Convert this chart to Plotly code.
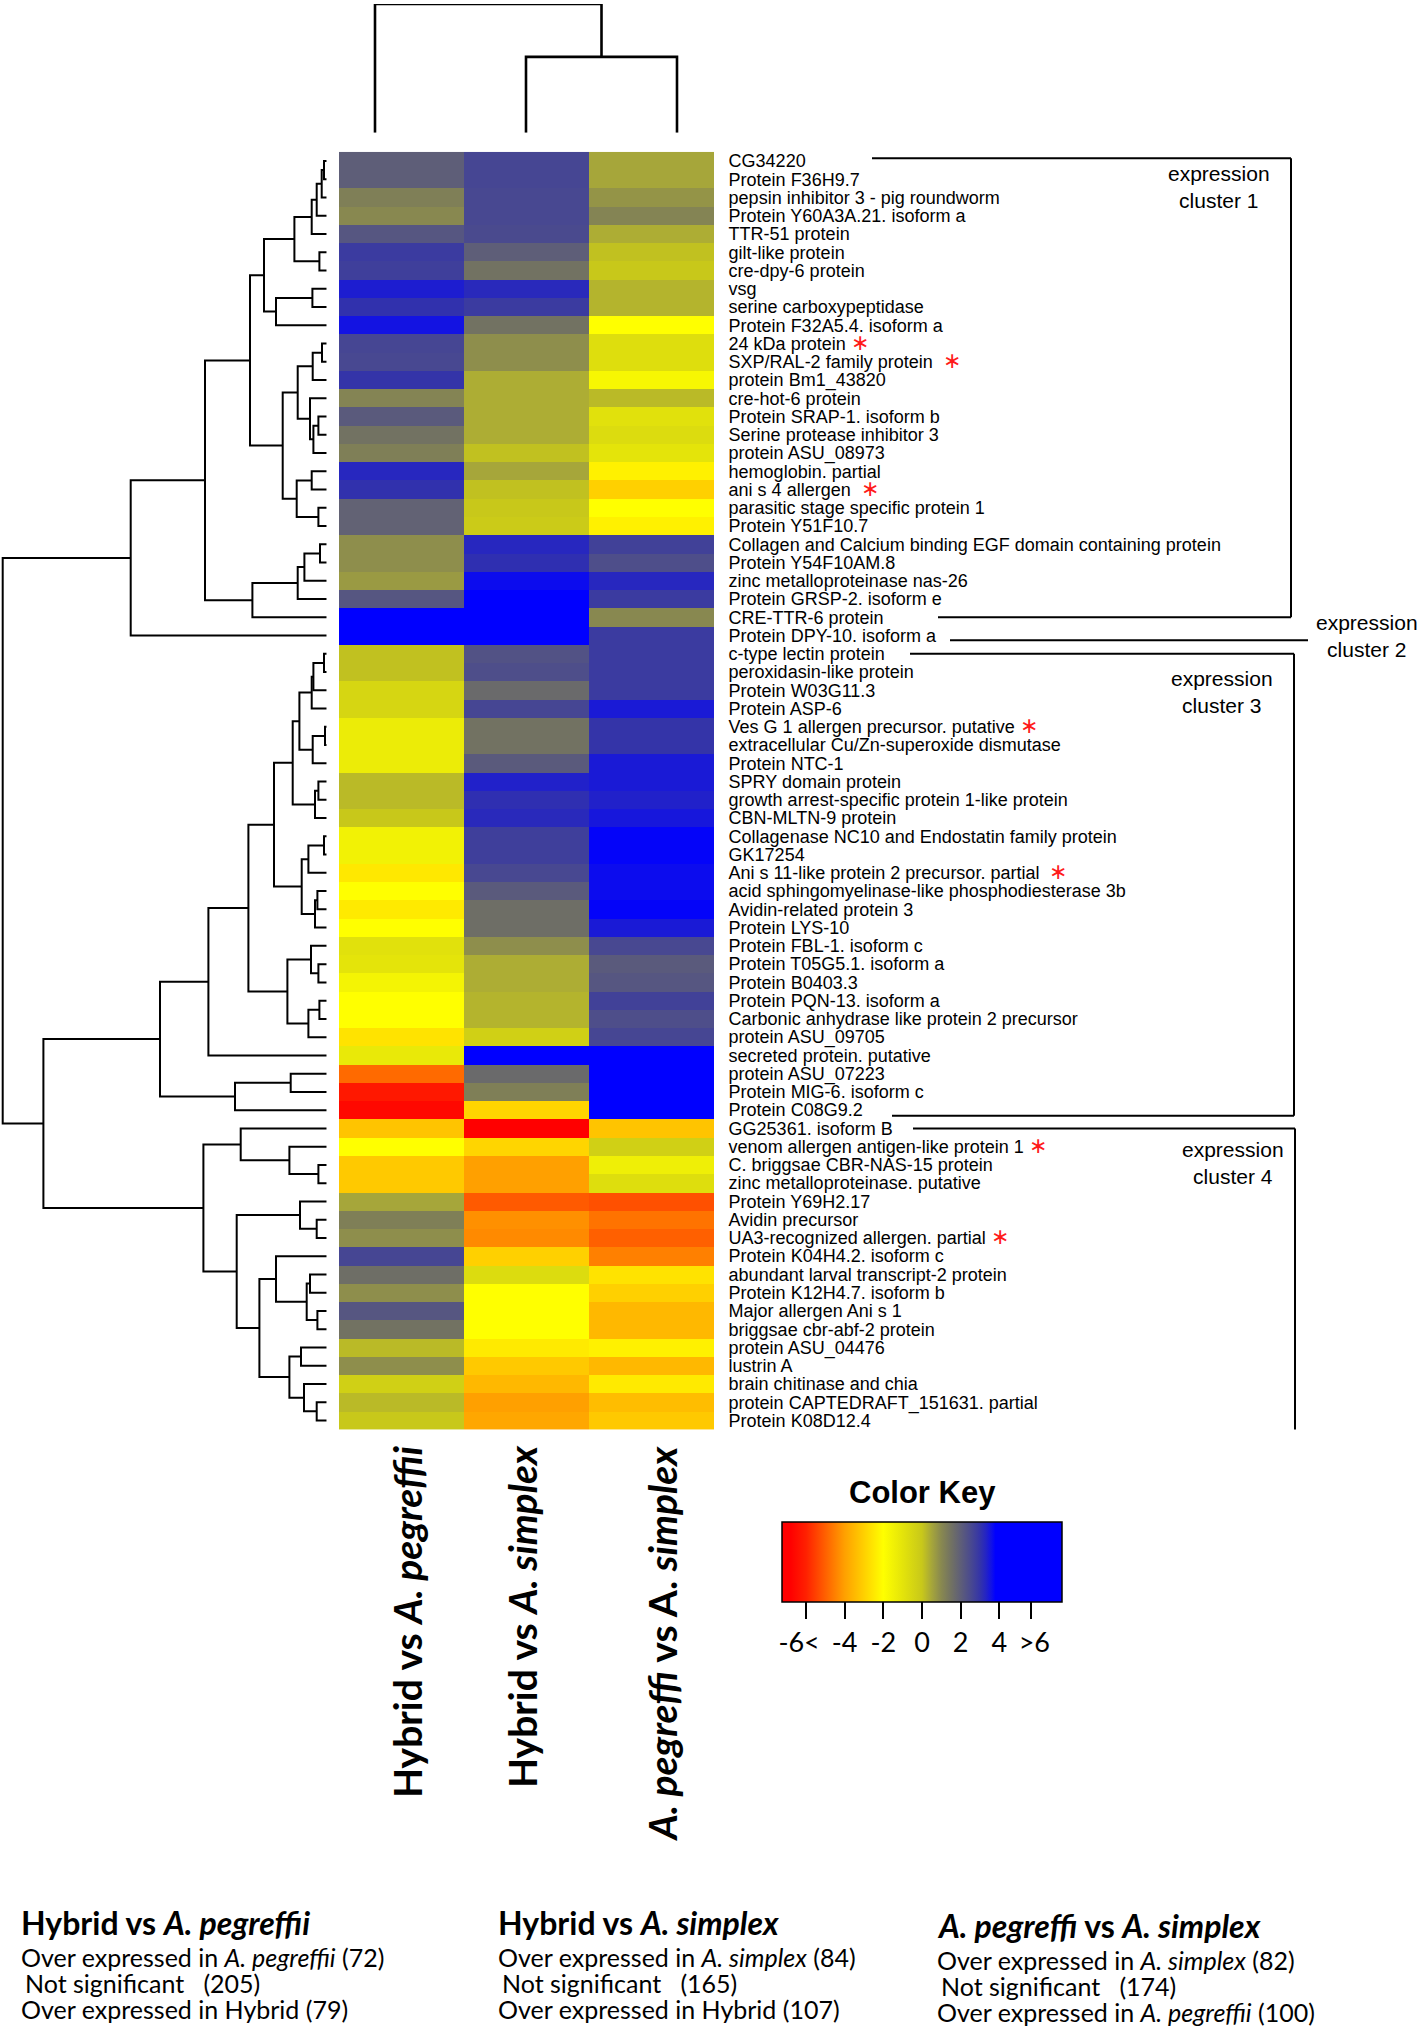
import plotly.graph_objects as go

W, H = 1418, 2026

# ---------------- data ----------------
genes = [
    "CG34220", "Protein F36H9.7", "pepsin inhibitor 3 - pig roundworm", "Protein Y60A3A.21. isoform a", "TTR-51 protein",
    "gilt-like protein", "cre-dpy-6 protein", "vsg", "serine carboxypeptidase", "Protein F32A5.4. isoform a",
    "24 kDa protein", "SXP/RAL-2 family protein", "protein Bm1_43820", "cre-hot-6 protein", "Protein SRAP-1. isoform b",
    "Serine protease inhibitor 3", "protein ASU_08973", "hemoglobin. partial", "ani s 4 allergen", "parasitic stage specific protein 1",
    "Protein Y51F10.7", "Collagen and Calcium binding EGF domain containing protein", "Protein Y54F10AM.8", "zinc metalloproteinase nas-26", "Protein GRSP-2. isoform e",
    "CRE-TTR-6 protein", "Protein DPY-10. isoform a", "c-type lectin protein", "peroxidasin-like protein", "Protein W03G11.3",
    "Protein ASP-6", "Ves G 1 allergen precursor. putative", "extracellular Cu/Zn-superoxide dismutase", "Protein NTC-1", "SPRY domain protein",
    "growth arrest-specific protein 1-like protein", "CBN-MLTN-9 protein", "Collagenase NC10 and Endostatin family protein", "GK17254", "Ani s 11-like protein 2 precursor. partial",
    "acid sphingomyelinase-like phosphodiesterase 3b", "Avidin-related protein 3", "Protein LYS-10", "Protein FBL-1. isoform c", "Protein T05G5.1. isoform a",
    "Protein B0403.3", "Protein PQN-13. isoform a", "Carbonic anhydrase like protein 2 precursor", "protein ASU_09705", "secreted protein. putative",
    "protein ASU_07223", "Protein MIG-6. isoform c", "Protein C08G9.2", "GG25361. isoform B", "venom allergen antigen-like protein 1",
    "C. briggsae CBR-NAS-15 protein", "zinc metalloproteinase. putative", "Protein Y69H2.17", "Avidin precursor", "UA3-recognized allergen. partial",
    "Protein K04H4.2. isoform c", "abundant larval transcript-2 protein", "Protein K12H4.7. isoform b", "Major allergen Ani s 1", "briggsae cbr-abf-2 protein",
    "protein ASU_04476", "lustrin A", "brain chitinase and chia", "protein CAPTEDRAFT_151631. partial", "Protein K08D12.4",
]

# allergens marked with a red asterisk (value = number of spaces before it)
allergen_marks = {
    "24 kDa protein": 1,
    "SXP/RAL-2 family protein": 2,
    "ani s 4 allergen": 2,
    "Ves G 1 allergen precursor. putative": 1,
    "Ani s 11-like protein 2 precursor. partial": 2,
    "venom allergen antigen-like protein 1": 1,
    "UA3-recognized allergen. partial": 1,
}

comparisons = ["Hybrid vs <i>A. pegreffii</i>", "Hybrid vs <i>A. simplex</i>",
               "<i>A. pegreffi</i> vs A. <i>simplex</i>"]

hyb_vs_peg = [2.0, 2.0, 1.2, 1.0, 2.2, 2.85, 2.75, 3.4, 3.05, 3.55,
              2.6, 2.55, 3.0, 1.1, 2.1, 1.5, 1.2, 3.25, 3.05, 1.9,
              1.9, 0.9, 0.9, 0.7, 2.2, 6.0, 6.0, 0.1, 0.1, -0.5,
              -0.5, -1.3, -1.3, -1.3, 0.2, 0.2, 0.0, -1.5, -1.5, -2.5,
              -2.0, -2.45, -2.0, -0.9, -1.0, -1.6, -2.0, -2.0, -2.6, -1.2,
              -4.85, -6.2, -6.6, -3.25, -2.0, -3.15, -3.15, 0.5, 1.2, 0.9,
              2.6, 1.6, 0.9, 2.2, 1.5, 0.2, 0.9, -0.3, 0.2, 0.0]
hyb_vs_sim = [2.6, 2.6, 2.55, 2.55, 2.5, 2.0, 1.5, 3.2, 2.85, 1.5,
              0.9, 0.9, 0.4, 0.4, 0.4, 0.4, 0.1, 0.5, 0.1, 0.0,
              -0.1, 3.25, 3.1, 3.65, 6.0, 6.0, 6.0, 2.3, 2.4, 1.7,
              2.6, 1.5, 1.5, 2.1, 3.35, 3.1, 3.2, 2.75, 2.75, 2.55,
              2.1, 1.6, 1.6, 0.9, 0.4, 0.4, 0.3, 0.3, -0.3, 6.0,
              1.7, 1.2, -2.9, -6.9, -2.9, -4.0, -4.0, -5.1, -4.25, -4.35,
              -3.0, -0.7, -2.0, -2.0, -2.0, -2.45, -3.15, -3.5, -4.0, -3.85]
peg_vs_sim = [0.5, 0.5, 0.8, 1.1, 0.4, 0.1, 0.0, 0.3, 0.3, -2.0,
              -0.8, -0.8, -1.7, 0.2, -0.9, -0.7, -1.0, -2.3, -3.0, -2.0,
              -2.3, 2.7, 2.4, 3.25, 2.85, 1.0, 2.85, 2.85, 2.85, 2.85,
              3.45, 3.0, 3.0, 3.45, 3.45, 3.35, 3.5, 3.75, 3.75, 3.65,
              3.65, 3.75, 3.45, 2.55, 2.1, 2.2, 2.7, 2.4, 2.6, 6.0,
              6.0, 6.0, 6.0, -3.25, -0.3, -1.4, -0.8, -5.25, -4.7, -5.0,
              -4.5, -2.6, -3.0, -3.5, -3.5, -2.3, -3.5, -2.45, -3.4, -3.15]

# row dendrogram merges: (node, child_a, child_b, height)
row_merges = [
    ("m1", 0, 1, 2.7), ("m2", "m1", 2, 5.0), ("m3", "m2", 3, 10.0), ("m4", "m3", 4, 15.0),
    ("m5", 5, 6, 7.3), ("m6", "m4", "m5", 32.3), ("m7", 7, 8, 14.3), ("m8", "m7", 9, 50.7),
    ("m9", "m6", "m8", 62.7), ("m10", 10, 11, 4.7), ("m11", "m10", 12, 14.0),
    ("m12", 14, 15, 8.3), ("m13", "m12", 16, 13.3), ("m14", 13, "m13", 16.7),
    ("m15", "m11", "m14", 29.0), ("m16", 17, 18, 15.0), ("m17", 19, 20, 8.3),
    ("m18", "m16", "m17", 30.0), ("m19", "m15", "m18", 44.0), ("m20", "m9", "m19", 76.7),
    ("m21", 21, 22, 6.7), ("m22", "m21", 23, 22.3), ("m23", "m22", 24, 29.0),
    ("m24", "m23", 25, 74.3), ("m25", "m20", "m24", 121.7), ("m26", "m25", 26, 196.0),
    ("n1", 27, 28, 2.7), ("n2", "n1", 29, 13.3), ("n3", "n2", 30, 15.0),
    ("n4", 31, 32, 1.7), ("n5", "n4", 33, 14.0), ("n6", "n3", "n5", 27.3),
    ("n7", 34, 35, 8.3), ("n8", "n7", 36, 11.7), ("n9", "n6", "n8", 34.0),
    ("n10", 37, 38, 2.7), ("n11", "n10", 39, 18.3), ("n12", 40, 41, 9.3),
    ("n13", "n12", 42, 11.7), ("n14", "n11", "n13", 25.0), ("n15", "n9", "n14", 52.7),
    ("n16", 44, 45, 8.3), ("n17", 43, "n16", 15.7), ("n18", 46, 47, 7.3),
    ("n19", "n18", 48, 18.3), ("n20", "n17", "n19", 39.3), ("n21", "n15", "n20", 78.3),
    ("n22", "n21", 49, 118.3), ("n23", 50, 51, 36.0), ("n24", "n23", 52, 91.7),
    ("n25", "n22", "n24", 166.7), ("n26", 55, 56, 8.3), ("n27", 54, "n26", 37.3),
    ("n28", 53, "n27", 86.0), ("n29", 58, 59, 10.0), ("n30", 57, "n29", 26.7),
    ("n31", 61, 62, 16.7), ("n32", 63, 64, 9.3), ("n33", "n31", "n32", 20.0),
    ("n34", 60, "n33", 50.7), ("n35", 65, 66, 25.7), ("n36", 68, 69, 10.0),
    ("n37", 67, "n36", 22.7), ("n38", "n35", "n37", 37.3), ("n39", "n34", "n38", 67.3),
    ("n40", "n30", "n39", 90.0), ("n41", "n28", "n40", 123.3), ("n42", "n25", "n41", 283.3),
    ("root", "m26", "n42", 324.0),
]
ROW_TREE_MAX = 326.7

# column dendrogram merges
col_merges = [("c1", 1, 2, 0.59), ("c2", 0, "c1", 1.0)]

# colour key
ZMIN, ZMAX = -7.24, 7.24
key_stops = [(-7.24, "#ff0000"), (-6.8, "#ff0000"), (-6.0, "#ff2000"), (-5.0, "#ff6000"),
             (-4.0, "#ffa000"), (-3.0, "#ffd000"), (-2.0, "#ffff00"), (-1.0, "#e4e40a"),
             (0.0, "#c8c81a"), (0.5, "#a6a63a"), (1.0, "#888850"), (1.5, "#727262"),
             (2.0, "#5e5e78"), (2.5, "#4a4a8e"), (3.0, "#3434a8"), (3.3, "#2424c4"),
             (3.6, "#1010e8"), (3.8, "#0000ff"), (7.24, "#0000ff")]
key_tickvals = [-6, -4, -2, 0, 2, 4, 5.63]
key_ticktext = ["-6<\u00a0\u00a0", "-4", "-2", "0", "2", "4", "\u00a0>6"]

summary_titles = ["<b>Hybrid vs <i>A. pegreffii</i></b>", "<b>Hybrid vs <i>A. simplex</i></b>",
                  "<b><i>A. pegreffi</i> vs <i>A. simplex</i></b>"]
summary_over_a = ["Over expressed in <i>A. pegreffii</i> (72)", "Over expressed in <i>A. simplex</i> (84)",
                  "Over expressed in <i>A. simplex</i> (82)"]
summary_not_sig = [205, 165, 174]
summary_over_b = ["Over expressed in Hybrid (79)", "Over expressed in Hybrid (107)",
                  "Over expressed in <i>A. pegreffii</i> (100)"]

clusters = ["expression<br>cluster 1", "expression<br>cluster 2",
            "expression<br>cluster 3", "expression<br>cluster 4"]

# ---------------- helpers ----------------
def fx(x):
    return x / W


def fy(y):
    return 1 - y / H


def dendro(merges, n_leaves):
    pos = {i: (0.0, float(i)) for i in range(n_leaves)}
    hs, ps = [], []
    for name, a, b, h in merges:
        ha, pa = pos[a]
        hb, pb = pos[b]
        hs += [ha, h, h, hb, None]
        ps += [pa, pa, pb, pb, None]
        pos[name] = (h, (pa + pb) / 2)
    return hs, ps


colorscale = [[(v - ZMIN) / (ZMAX - ZMIN), c] for v, c in key_stops]

ticktext = []
for g in genes:
    if g in allergen_marks:
        gap = "\u00a0" * allergen_marks[g]
        ticktext.append(g + gap + '<span style="color:#ff1a1a;font-size:22px">\u2217</span>')
    else:
        ticktext.append(g)

n = len(genes)
z = [list(t) for t in zip(hyb_vs_peg, hyb_vs_sim, peg_vs_sim)]

fig = go.Figure()

fig.add_trace(go.Heatmap(
    z=z, x=[0, 1, 2], y=list(range(n)),
    colorscale=colorscale, zmin=ZMIN, zmax=ZMAX,
    xaxis="x", yaxis="y", hoverinfo="skip",
    colorbar=dict(
        orientation="h", x=fx(922), xanchor="center", y=fy(1523), yanchor="top",
        lenmode="pixels", len=280, thicknessmode="pixels", thickness=80,
        outlinewidth=1.5, outlinecolor="black", xpad=0, ypad=0,
        tickvals=key_tickvals, ticktext=key_ticktext, tickangle=0,
        ticks="outside", ticklen=17, tickwidth=2, tickcolor="black",
        tickfont=dict(family="Lato, sans-serif", size=27, color="black"),
    ),
))

rh, rp = dendro(row_merges, n)
fig.add_trace(go.Scatter(x=rh, y=rp, mode="lines", line=dict(color="black", width=2),
                         xaxis="x2", yaxis="y2", hoverinfo="skip", cliponaxis=False))

ch, cp = dendro(col_merges, 3)
fig.add_trace(go.Scatter(x=cp, y=ch, mode="lines", line=dict(color="black", width=2.6),
                         xaxis="x3", yaxis="y3", hoverinfo="skip", cliponaxis=False))

hidden = dict(showgrid=False, zeroline=False, showticklabels=False, ticks="", showline=False)

fig.update_layout(
    width=W, height=H,
    margin=dict(l=0, r=0, t=0, b=0),
    paper_bgcolor="white", plot_bgcolor="white",
    showlegend=False,
    font=dict(family="Liberation Sans, Arial, sans-serif", color="black"),
    xaxis=dict(domain=[fx(339), fx(714)], range=[-0.5, 2.5], anchor="y", **hidden),
    yaxis=dict(domain=[fy(1430), fy(151)], range=[n - 0.5, -0.5], anchor="x",
               side="right", tickvals=list(range(n)), ticktext=ticktext,
               ticks="outside", ticklen=10, tickcolor="rgba(0,0,0,0)",
               tickfont=dict(family="Liberation Sans, Arial, sans-serif", size=18, color="black"),
               showgrid=False, zeroline=False, showline=False),
    xaxis2=dict(domain=[0, fx(ROW_TREE_MAX)], range=[ROW_TREE_MAX, 0], anchor="y2", **hidden),
    yaxis2=dict(domain=[fy(1430), fy(151)], range=[n - 0.5, -0.5], anchor="x2", **hidden),
    xaxis3=dict(domain=[fx(299.5), fx(752.5)], range=[-0.5, 2.5], anchor="y3", **hidden),
    yaxis3=dict(domain=[fy(132), fy(3)], range=[0, 1], anchor="x3", **hidden),
)

# cluster brackets (rows in heatmap coordinates, x in paper)
line_style = dict(color="black", width=2)


def hline(x0, x1, yrow):
    fig.add_shape(type="line", xref="paper", yref="y", x0=fx(x0), x1=fx(x1), y0=yrow, y1=yrow, line=line_style)


def vline(x, y0, y1):
    fig.add_shape(type="line", xref="paper", yref="y", x0=fx(x), x1=fx(x), y0=y0, y1=y1, line=line_style)


# cluster 1
hline(872, 1291, -0.15); hline(938, 1291, 25.0); vline(1291, -0.15, 25.0)
# cluster 2
hline(950, 1308, 26.25)
# cluster 3
hline(910, 1294, 27.0); hline(892, 1294, 52.3); vline(1294, 27.0, 52.3)
# cluster 4
hline(913, 1295, 53.0); hline(919, 1295, 69.75); vline(1295, 53.0, 69.75)

ann = []
for txt, (cx, cy) in zip(clusters, [(1219, 186), (1367, 636), (1222, 692), (1233, 1163)]):
    ann.append(dict(text=txt, x=fx(cx), y=fy(cy), xref="paper", yref="paper", showarrow=False,
                    xanchor="center", yanchor="middle", align="center",
                    font=dict(family="Liberation Sans, Arial, sans-serif", size=21, color="black")))

# column labels (rotated)
for txt, cx in zip(comparisons, [407, 522, 662]):
    ann.append(dict(text="<b>" + txt + "</b>", x=fx(cx), y=fy(1444), xref="paper", yref="paper",
                    showarrow=False, textangle=-90, xanchor="center", yanchor="top",
                    font=dict(family="Lato, sans-serif", size=39, color="black")))

# colour key title
ann.append(dict(text="<b>Color Key</b>", x=fx(922), y=fy(1493), xref="paper", yref="paper",
                showarrow=False, xanchor="center", yanchor="middle",
                font=dict(family="Liberation Sans, Arial, sans-serif", size=31, color="black")))

# bottom summaries
sx = [19, 496, 935]
sy0 = [0, 0, 3]
for i in range(3):
    ann.append(dict(text=summary_titles[i], x=fx(sx[i]), y=fy(1923 + sy0[i]), xref="paper", yref="paper",
                    showarrow=False, xanchor="left", yanchor="middle",
                    font=dict(family="Lato, sans-serif", size=32, color="black")))
    lines = [summary_over_a[i],
             "Not significant\u00a0\u00a0\u00a0(%d)" % summary_not_sig[i],
             summary_over_b[i]]
    for j, (t, yy) in enumerate(zip(lines, [1958, 1984, 2010])):
        ann.append(dict(text=t, x=fx(sx[i] + (4 if j == 1 else 0)), y=fy(yy + sy0[i]),
                        xref="paper", yref="paper", showarrow=False,
                        xanchor="left", yanchor="middle",
                        font=dict(family="Lato, sans-serif", size=25, color="black")))

fig.update_layout(annotations=ann)

fig.write_html("out.html", config={"displayModeBar": False},
               post_script="document.body.style.margin='0px';")
